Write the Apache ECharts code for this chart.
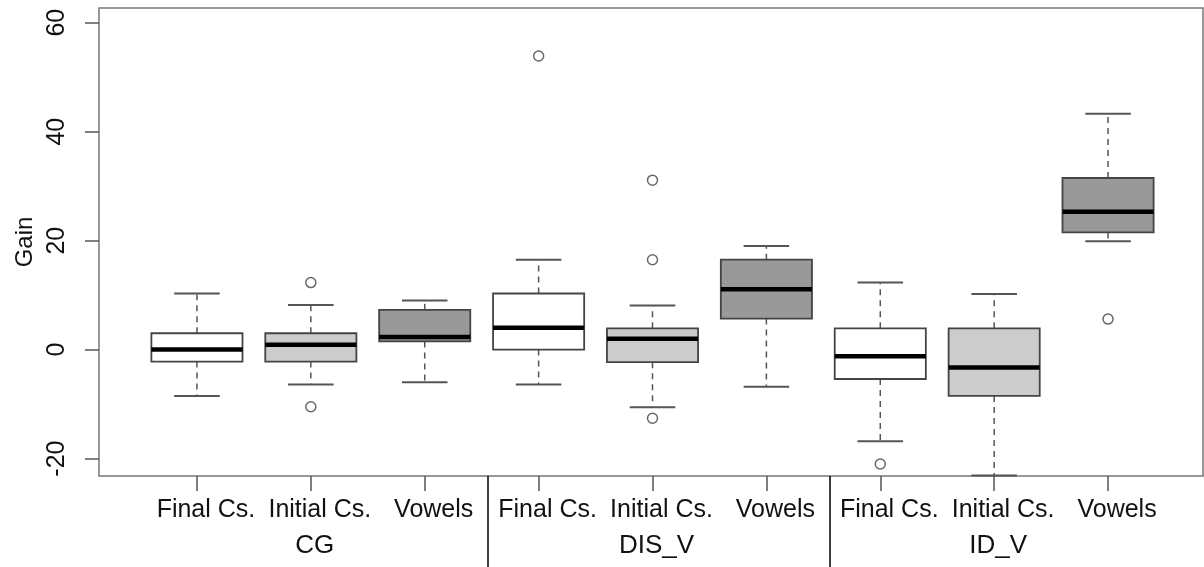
<!DOCTYPE html>
<html>
<head>
<meta charset="utf-8">
<script src="https://cdn.jsdelivr.net/npm/echarts@6/dist/echarts.min.js"></script>
<style>
  html, body { margin: 0; padding: 0; background: #fff; }
  #chart { width: 1204px; height: 567px; }
</style>
</head>
<body>
<div id="chart"></div>
<script>
// labels
const groups = ['CG', 'DIS_V', 'ID_V'];
const parts = ['Final Cs.', 'Initial Cs.', 'Vowels'];
const yTicks = [-20, 0, 20, 40, 60];

// boxes: [min, Q1, median, Q3, max], one per box, in the order of the x axis
const cgBoxes  = [[-8.5, -2.2, 0.0, 3.0, 10.3], [-6.4, -2.2, 0.9, 3.0, 8.2], [-6.0, 1.5, 2.3, 7.3, 9.0]];
const disBoxes = [[-6.4, 0.0, 4.0, 10.3, 16.5], [-10.6, -2.3, 2.0, 3.9, 8.1], [-6.8, 5.7, 11.1, 16.5, 19.0]];
const idBoxes  = [[-16.8, -5.4, -1.2, 3.9, 12.3], [-23.1, -8.5, -3.3, 3.9, 10.2], [19.9, 21.5, 25.3, 31.5, 43.3]];

// outliers: [box index, value]
const outliers = [[1, 12.3], [1, -10.5], [3, 53.9], [4, 31.1], [4, 16.5], [4, -12.6], [6, -21.0], [8, 5.6]];

const fills = ['#ffffff', '#cccccc', '#999999'];

const yMin = -23.2, yMax = 62.7;

const boxes = cgBoxes.concat(disBoxes, idBoxes);
const categories = [];
const groupLabels = [];
groups.forEach(g => parts.forEach((p, j) => {
    categories.push(p);
    groupLabels.push(j === 1 ? g : '');
}));
const boxData = boxes.map((b, i) => ({
    value: [i].concat(b),
    itemStyle: { color: fills[i % 3] }
}));
// group separators, a bit right of the gap between groups like in the original
const separators = [2.55, 5.56];

function renderBox(params, api) {
    const i = api.value(0);
    const lo = api.coord([i, api.value(1)]);
    const q1 = api.coord([i, api.value(2)]);
    const md = api.coord([i, api.value(3)]);
    const q3 = api.coord([i, api.value(4)]);
    const hi = api.coord([i, api.value(5)]);
    const band = api.size([1, 0])[0];
    const bw = band * 0.8;
    const cw = bw * 0.5;
    const cx = md[0];
    const dash = { stroke: '#555', lineWidth: 1.5, lineDash: [6, 5] };
    const cap = { stroke: '#555', lineWidth: 2 };
    return {
        type: 'group',
        children: [
            { type: 'line', shape: { x1: cx, y1: q3[1], x2: cx, y2: hi[1] }, style: dash },
            { type: 'line', shape: { x1: cx, y1: q1[1], x2: cx, y2: lo[1] }, style: dash },
            { type: 'line', shape: { x1: cx - cw / 2, y1: hi[1], x2: cx + cw / 2, y2: hi[1] }, style: cap },
            { type: 'line', shape: { x1: cx - cw / 2, y1: lo[1], x2: cx + cw / 2, y2: lo[1] }, style: cap },
            {
                type: 'rect',
                shape: { x: cx - bw / 2, y: q3[1], width: bw, height: q1[1] - q3[1] },
                style: { fill: api.visual('color'), stroke: '#444', lineWidth: 1.8 }
            },
            {
                type: 'line',
                shape: { x1: cx - bw / 2, y1: md[1], x2: cx + bw / 2, y2: md[1] },
                style: { stroke: '#000', lineWidth: 4.5 }
            }
        ]
    };
}

const font = 'Liberation Sans';

const option = {
    animation: false,
    grid: [
        // frame
        { left: 99, right: 1, top: 8, bottom: 91, show: true, borderColor: '#777', borderWidth: 1.5 },
        // boxes
        { left: 140, right: 39, top: 8, bottom: 91 }
    ],
    xAxis: [
        { gridIndex: 0, type: 'value', min: 0, max: 1, show: false },
        {
            gridIndex: 1, type: 'category', data: categories, position: 'bottom',
            axisLine: { show: false, onZero: false },
            axisTick: { show: true, alignWithLabel: true, length: 15, lineStyle: { color: '#555', width: 1.5 } },
            axisLabel: {
                interval: 0, margin: 22, fontSize: 25, fontFamily: font, color: '#111',
                padding: [0, 0, 0, 18]
            }
        },
        {
            gridIndex: 1, type: 'category', data: groupLabels, position: 'bottom',
            axisLine: { show: false, onZero: false }, axisTick: { show: false },
            axisLabel: { interval: 0, margin: 57, fontSize: 26, fontFamily: font, color: '#111', padding: [0, 0, 0, 8] }
        },
        {
            gridIndex: 1, type: 'value', min: -0.5, max: 8.5, position: 'bottom',
            axisLine: { show: false, onZero: false },
            axisTick: { show: true, customValues: separators, length: 91, lineStyle: { color: '#000', width: 1.5 } },
            axisLabel: { show: false },
            splitLine: { show: false }
        }
    ],
    yAxis: [
        {
            gridIndex: 0, type: 'value', min: yMin, max: yMax,
            name: 'Gain', nameLocation: 'middle', nameRotate: 90, nameGap: 62,
            nameTextStyle: { fontSize: 24, fontFamily: font, color: '#111' },
            axisLine: { show: false },
            axisTick: { show: true, customValues: yTicks, length: 14, lineStyle: { color: '#555', width: 1.5 } },
            axisLabel: { customValues: yTicks, rotate: 90, margin: 29, fontSize: 25, fontFamily: font, color: '#111' },
            splitLine: { show: false }
        },
        { gridIndex: 1, type: 'value', min: yMin, max: yMax, show: false }
    ],
    series: [
        {
            type: 'custom',
            xAxisIndex: 1, yAxisIndex: 1,
            renderItem: renderBox,
            encode: { x: 0, y: [1, 2, 3, 4, 5] },
            data: boxData,
            z: 2
        },
        {
            type: 'scatter',
            xAxisIndex: 1, yAxisIndex: 1,
            symbol: 'circle', symbolSize: 10,
            itemStyle: { color: '#fff', borderColor: '#444', borderWidth: 1.5 },
            data: outliers,
            z: 3
        }
    ]
};

const chart = echarts.init(document.getElementById('chart'));
chart.setOption(option);
</script>
</body>
</html>
